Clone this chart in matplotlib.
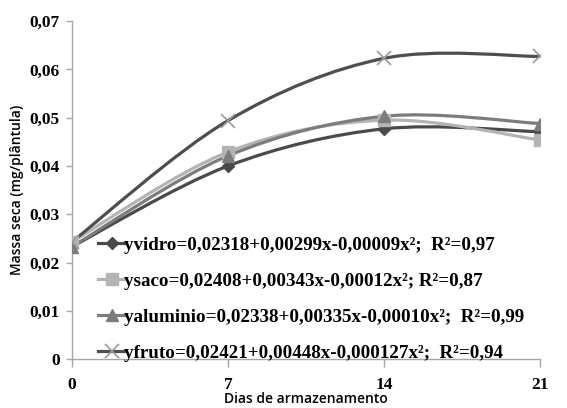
import matplotlib
matplotlib.use("Agg")
import matplotlib.pyplot as plt
import numpy as np
from matplotlib.path import Path
from matplotlib.patches import PathPatch
from matplotlib.lines import Line2D

dias = [0, 7, 14, 21]
vidro = [0.0233, 0.0400, 0.0477, 0.0471]
saco = [0.0243, 0.0429, 0.0495, 0.0454]
aluminio = [0.0233, 0.0421, 0.0503, 0.0488]
fruto = [0.0243, 0.0494, 0.0623, 0.0627]

labels = [
    "yvidro=0,02318+0,00299x-0,00009x²;  R²=0,97",
    "ysaco=0,02408+0,00343x-0,00012x²; R²=0,87",
    "yaluminio=0,02338+0,00335x-0,00010x²;  R²=0,99",
    "yfruto=0,02421+0,00448x-0,000127x²;  R²=0,94",
]
series = [vidro, saco, aluminio, fruto]
cores = ["#4a4a4a", "#b4b4b4", "#7c7c7c", "#4e4e4e"]
marcadores = [
    dict(marker="D", markersize=6, markerfacecolor="#4a4a4a", markeredgecolor="#4a4a4a"),
    dict(marker="s", markersize=8, markerfacecolor="#b4b4b4", markeredgecolor="#b4b4b4"),
    dict(marker="^", markersize=9, markerfacecolor="#7c7c7c", markeredgecolor="#7c7c7c"),
    dict(marker="x", markersize=10, markerfacecolor="none", markeredgecolor="#9a9a9a", markeredgewidth=1.2),
]


def curva_suave(x, y):
    # bezier suavizado (estilo excel) passando pelos pontos
    p = np.column_stack([x, y]).astype(float)
    n = len(p)
    verts = [p[0]]
    codes = [Path.MOVETO]
    for i in range(n - 1):
        p0 = p[i - 1] if i > 0 else p[i]
        p1 = p[i]
        p2 = p[i + 1]
        p3 = p[i + 2] if i + 2 < n else p[i + 1]
        c1 = p1 + (p2 - p0) / 6.0
        c2 = p2 - (p3 - p1) / 6.0
        verts += [c1, c2, p2]
        codes += [Path.CURVE4] * 3
    return Path(verts, codes)


fig = plt.figure(figsize=(5.67, 4.08), dpi=100)
ax = fig.add_axes([0.127, 0.120, 0.825, 0.828])

for y, cor, mk in zip(series, cores, marcadores):
    ax.add_patch(PathPatch(curva_suave(dias, y), fill=False, edgecolor=cor, lw=2.3, zorder=2))
    ax.plot(dias, y, linestyle="none", zorder=3, **mk)

ax.set_xlim(0, 21)
ax.set_ylim(0, 0.07)
ax.set_xticks(dias)
ax.set_xticklabels(["0", "7", "14", "21"])
yt = np.arange(0, 0.071, 0.01)
ax.set_yticks(yt)
ax.set_yticklabels(["0", "0,01", "0,02", "0,03", "0,04", "0,05", "0,06", "0,07"])

for s in ["top", "right"]:
    ax.spines[s].set_visible(False)
for s in ["left", "bottom"]:
    ax.spines[s].set_color("#a6a6a6")
    ax.spines[s].set_linewidth(1.0)
ax.tick_params(axis="both", color="#a6a6a6", length=4, width=1.0)
ax.tick_params(axis="x", length=6, pad=7)
ax.tick_params(axis="y", pad=5)
for t in ax.get_xticklabels() + ax.get_yticklabels():
    t.set_fontfamily("Liberation Serif")
    t.set_fontweight("bold")
    t.set_fontsize(12.5)

ax.set_ylabel("Massa seca (mg/plântula)", fontsize=10, fontfamily="Open Sans",
              fontweight="semibold", labelpad=4)
ax.set_xlabel("Dias de armazenamento", fontsize=10, fontfamily="Open Sans",
              fontweight="semibold", labelpad=-1)

handles = [Line2D([], [], color=c, lw=2.3, **mk) for c, mk in zip(cores, marcadores)]
ax.legend(handles, labels, loc="lower left", bbox_to_anchor=(0.04, -0.03), frameon=False,
          prop=dict(family="Liberation Serif", weight="bold", size=13.7),
          handlelength=1.45, handletextpad=-0.1, labelspacing=0.98, borderaxespad=0)

fig.savefig("out.png", dpi=100)
